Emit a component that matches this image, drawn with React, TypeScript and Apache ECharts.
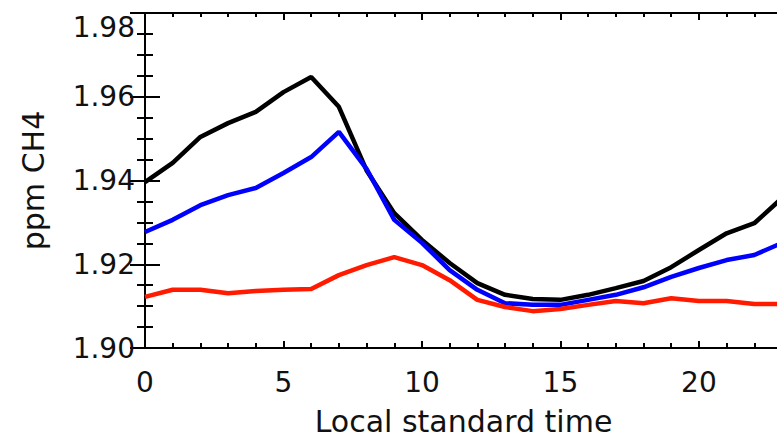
import React, { useEffect, useRef } from "react";
import * as echarts from "echarts";

const hours = [0, 1, 2, 3, 4, 5, 6, 7, 8, 9, 10, 11, 12, 13, 14, 15, 16, 17, 18, 19, 20, 21, 22, 23];
const blackSeries = [1.9396, 1.9442, 1.9504, 1.9537, 1.9564, 1.9611, 1.9647, 1.9576, 1.9424, 1.9322, 1.9258, 1.9203, 1.9155, 1.9127, 1.9117, 1.9115, 1.9127, 1.9143, 1.916, 1.9193, 1.9234, 1.9274, 1.9298, 1.9358];
const blueSeries = [1.9277, 1.9306, 1.9341, 1.9365, 1.9382, 1.9418, 1.9456, 1.9516, 1.9428, 1.9306, 1.9251, 1.9186, 1.9139, 1.9107, 1.9103, 1.9103, 1.9115, 1.9127, 1.9145, 1.917, 1.9191, 1.921, 1.9222, 1.9251];
const redSeries = [1.9122, 1.9139, 1.9139, 1.9131, 1.9136, 1.9139, 1.9141, 1.9174, 1.9198, 1.9217, 1.9198, 1.9162, 1.9115, 1.9098, 1.9088, 1.9093, 1.9103, 1.9112, 1.9107, 1.9119, 1.9112, 1.9112, 1.9105, 1.9105];

const xTitle = "Local standard time";
const yTitle = "ppm CH4";

const FONT = "DejaVu Sans";
const TXT = "#111";

export default function App() {
  const ref = useRef<HTMLDivElement>(null);
  useEffect(() => {
    if (!ref.current) return;
    const chart = echarts.init(ref.current, null, { renderer: "svg" });
    const pair = (arr: number[]) => hours.map((h, i) => [h, arr[i]]);
    const lineStyle = { color: "#000", width: 2 };
    const xCommon = { type: "value", min: 0, max: 23, splitLine: { show: false } };
    const yCommon = { type: "value", min: 1.9, max: 1.98, interval: 0.02, splitLine: { show: false } };
    chart.setOption({
      animation: false,
      backgroundColor: "#fff",
      grid: { left: 145, top: 13, right: -5, bottom: 90, containLabel: false, outerBoundsMode: "none" },
      xAxis: [
        {
          ...xCommon,
          position: "bottom",
          interval: 5,
          axisLine: { show: true, lineStyle },
          axisTick: { show: true, inside: true, length: 7, lineStyle },
          axisLabel: {
            show: true,
            margin: 20,
            fontFamily: FONT,
            fontSize: 28,
            color: TXT,
            showMaxLabel: false,
            formatter: (v: number) => (v % 5 === 0 ? String(v) : ""),
          },
          name: xTitle,
          nameLocation: "middle",
          nameGap: 58,
          nameTextStyle: { fontFamily: FONT, fontSize: 30, color: TXT },
        },
        {
          ...xCommon,
          position: "bottom",
          interval: 1,
          axisLine: { show: false },
          axisTick: { show: true, inside: true, length: 5, lineStyle },
          axisLabel: { show: false },
        },
        {
          ...xCommon,
          position: "top",
          interval: 5,
          axisLine: { show: true, lineStyle },
          axisTick: { show: true, inside: true, length: 7, lineStyle },
          axisLabel: { show: false },
        },
        {
          ...xCommon,
          position: "top",
          interval: 1,
          axisLine: { show: false },
          axisTick: { show: true, inside: true, length: 4, lineStyle },
          axisLabel: { show: false },
        },
      ],
      yAxis: [
        {
          ...yCommon,
          position: "left",
          axisLine: { show: true, lineStyle },
          axisTick: { show: true, inside: true, length: 15, lineStyle },
          minorTick: { show: true, splitNumber: 4, length: 8, lineStyle },
          minorSplitLine: { show: false },
          axisLabel: {
            show: true,
            margin: 10,
            fontFamily: FONT,
            fontSize: 28,
            color: TXT,
            formatter: (v: number) => v.toFixed(2),
            verticalAlignMaxLabel: "top",
          },
          name: yTitle,
          nameLocation: "middle",
          nameGap: 97,
          nameTextStyle: { fontFamily: FONT, fontSize: 30, color: TXT },
        },
        {
          ...yCommon,
          position: "right",
          axisLine: { show: true, lineStyle },
          axisTick: { show: true, inside: true, length: 15, lineStyle },
          minorTick: { show: true, splitNumber: 4, length: 8, lineStyle },
          minorSplitLine: { show: false },
          axisLabel: { show: false },
        },
      ],
      series: [
        {
          type: "line",
          name: "black",
          data: pair(blackSeries),
          xAxisIndex: 0,
          yAxisIndex: 0,
          showSymbol: false,
          symbol: "none",
          lineStyle: { color: "#000000", width: 4.5 },
        },
        {
          type: "line",
          name: "blue",
          data: pair(blueSeries),
          xAxisIndex: 0,
          yAxisIndex: 0,
          showSymbol: false,
          symbol: "none",
          lineStyle: { color: "#0000ff", width: 4.5 },
        },
        {
          type: "line",
          name: "red",
          data: pair(redSeries),
          xAxisIndex: 0,
          yAxisIndex: 0,
          showSymbol: false,
          symbol: "none",
          lineStyle: { color: "#ff1a00", width: 4.5 },
        },
      ],
    });
    return () => chart.dispose();
  }, []);
  return (
    <div
      ref={ref}
      style={{ position: "absolute", left: 0, top: 0, width: 777, height: 438, background: "#fff" }}
    />
  );
}
